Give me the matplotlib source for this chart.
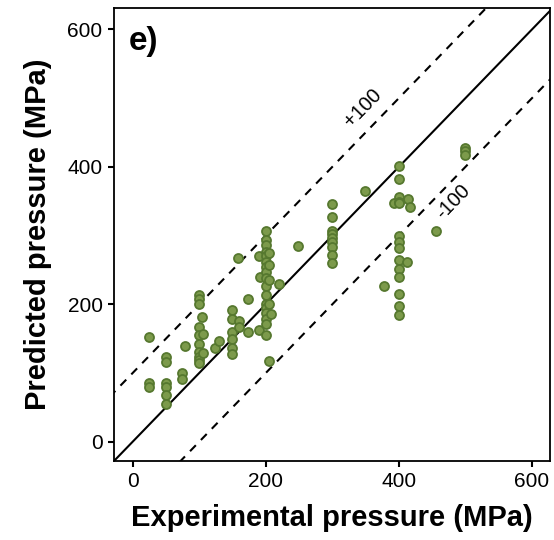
import matplotlib
matplotlib.use("Agg")
import matplotlib.pyplot as plt
import numpy as np

plt.rcParams['font.family'] = ['Liberation Sans', 'DejaVu Sans']

experimental = [24, 24, 24,
                50, 50, 50, 50, 50, 50,
                74, 74, 79,
                100, 100, 100, 100, 100, 100, 100, 100, 100, 100,
                104, 106, 106, 124, 130,
                150, 150, 150, 150, 150, 150,
                160, 160, 159, 174, 174, 190, 190, 192,
                200, 200, 200, 200, 200, 200, 200, 200, 200, 200, 200, 200, 200, 200, 200, 200, 200,
                205, 205, 205, 205, 205, 208, 220, 249,
                300, 300, 300, 300, 300, 300, 300, 300, 300,
                349, 378, 392,
                400, 400, 400, 400, 400, 400, 400, 400, 400, 400, 400, 400, 400, 400,
                412, 414, 417, 456,
                500, 500, 500]
predicted = [153, 86, 80,
             124, 116, 86, 80, 68, 55,
             100, 92, 139,
             213, 207, 200, 167, 155, 142, 130, 124, 119, 115,
             182, 157, 129, 136, 146,
             192, 178, 160, 149, 136, 128,
             175, 167, 268, 208, 159, 162, 270, 239,
             307, 294, 286, 276, 270, 262, 254, 247, 238, 226, 213, 201, 194, 187, 178, 172, 155,
             257, 235, 118, 275, 200, 186, 230, 285,
             346, 327, 307, 302, 297, 290, 283, 272, 260,
             365, 227, 347,
             401, 382, 356, 349, 347, 300, 290, 282, 264, 252, 240, 215, 197, 185,
             261, 353, 342, 306,
             427, 423, 417]

ticks = [0, 200, 400, 600]
offset = 100

fig = plt.figure(figsize=(5.54, 5.40), dpi=100)
ax = fig.add_axes([0.2052, 0.1457, 0.7876, 0.8400])

xlim = (-28.5, 627)
ylim = (-28.5, 631.5)
line_x = np.array([-100, 800])
ax.plot(line_x, line_x, color='black', lw=1.5, zorder=1)
ax.plot(line_x, line_x + offset, color='black', lw=1.5, ls=(0, (4, 3.5)), zorder=1)
ax.plot(line_x, line_x - offset, color='black', lw=1.5, ls=(0, (4, 3.5)), zorder=1)

ax.scatter(experimental, predicted, s=42, facecolor='#7c9a4b', edgecolor='#56782f',
           linewidths=1.3, zorder=3)

ax.set_xlim(*xlim)
ax.set_ylim(*ylim)
ax.set_xticks(ticks)
ax.set_yticks(ticks)
ax.tick_params(labelsize=15, length=4, width=1.5, direction='out', color='black', pad=4)
for s in ax.spines.values():
    s.set_linewidth(1.3)

ax.set_xlabel('Experimental pressure (MPa)', fontsize=21, fontweight='bold', labelpad=9)
ax.set_ylabel('Predicted pressure (MPa)', fontsize=21, fontweight='bold', labelpad=11)

ax.text(346, 485, '+100', rotation=45.9, fontsize=14.5, ha='center', va='center')
ax.text(481, 349, '-100', rotation=45.9, fontsize=14.5, ha='center', va='center')
ax.text(0.035, 0.96, 'e)', transform=ax.transAxes, fontsize=24, fontweight='bold',
        ha='left', va='top')

fig.savefig('out.png', dpi=100)
